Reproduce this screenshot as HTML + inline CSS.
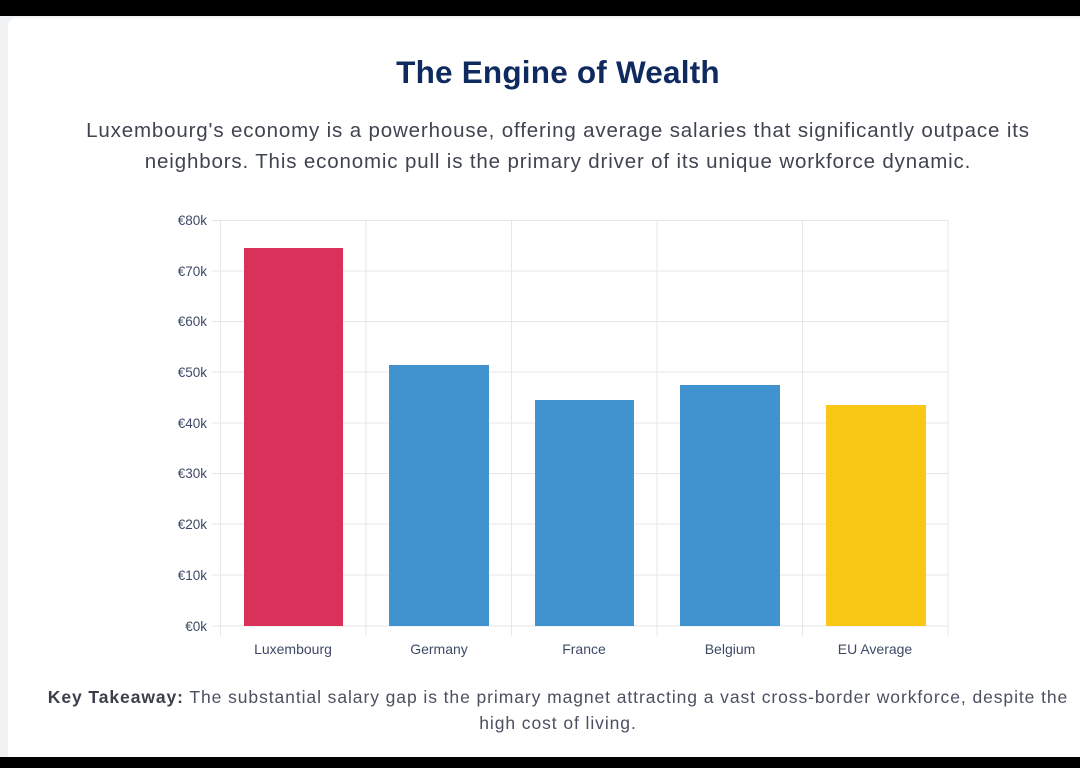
<!DOCTYPE html>
<html><head><meta charset="utf-8"><style>
body{margin:0;width:1080px;height:768px;background:#000;overflow:hidden;font-family:"Liberation Sans",sans-serif;position:relative}
.card{position:absolute;left:0;top:16px;width:1080px;height:741px;background:#f1f2f4}
.inner{position:absolute;left:8px;top:18px;width:1072px;height:739px;background:#fff;border-radius:8px 0 0 0}
h1{position:absolute;top:54px;left:0;width:1116px;text-align:center;margin:0;font-size:31.5px;color:#0f2a5e;font-weight:bold;letter-spacing:0.2px}
.sub{position:absolute;top:115px;left:0;width:1116px;text-align:center;font-size:20.5px;line-height:31px;color:#3f4450;letter-spacing:0.85px;white-space:nowrap}
.key{position:absolute;top:684px;left:0;width:1116px;text-align:center;font-size:17.5px;line-height:26px;color:#4b5060;letter-spacing:0.92px;white-space:nowrap}
.key b{color:#3a3f4a}
</style></head><body>
<div class="card"></div><div class="inner"></div>
<h1>The Engine of Wealth</h1>
<div class="sub">Luxembourg's economy is a powerhouse, offering average salaries that significantly outpace its<br>neighbors. This economic pull is the primary driver of its unique workforce dynamic.</div>
<svg width="1080" height="768" style="position:absolute;left:0;top:0" font-family="Liberation Sans, sans-serif">
<g stroke="#e5e7eb" stroke-width="1">
<line x1="212" x2="948" y1="220.5" y2="220.5"/><line x1="212" x2="948" y1="271" y2="271"/><line x1="212" x2="948" y1="321.5" y2="321.5"/><line x1="212" x2="948" y1="372" y2="372"/><line x1="212" x2="948" y1="423" y2="423"/><line x1="212" x2="948" y1="473.5" y2="473.5"/><line x1="212" x2="948" y1="524" y2="524"/><line x1="212" x2="948" y1="575" y2="575"/><line x1="212" x2="948" y1="626" y2="626"/>
<line x1="220.5" x2="220.5" y1="220" y2="636"/><line x1="366" x2="366" y1="220" y2="636"/><line x1="511.5" x2="511.5" y1="220" y2="636"/><line x1="657" x2="657" y1="220" y2="636"/><line x1="802.5" x2="802.5" y1="220" y2="636"/><line x1="948" x2="948" y1="220" y2="636"/>
</g>
<rect x="244" y="248" width="99" height="378" fill="#d9315a"/>
<rect x="389" y="365" width="100" height="261" fill="#4193cf"/>
<rect x="535" y="400" width="99" height="226" fill="#4193cf"/>
<rect x="680" y="385" width="100" height="241" fill="#4193cf"/>
<rect x="826" y="405" width="100" height="221" fill="#f8c815"/>
<g fill="#3d4a66" font-size="13.5" text-anchor="end">
<text x="207" y="225">€80k</text><text x="207" y="276">€70k</text><text x="207" y="326">€60k</text><text x="207" y="377">€50k</text><text x="207" y="428">€40k</text><text x="207" y="478">€30k</text><text x="207" y="529">€20k</text><text x="207" y="580">€10k</text><text x="207" y="631">€0k</text>
</g>
<g fill="#3d4a66" font-size="14" text-anchor="middle">
<text x="293" y="654">Luxembourg</text><text x="439" y="654">Germany</text><text x="584" y="654">France</text><text x="730" y="654">Belgium</text><text x="875" y="654">EU Average</text>
</g>
</svg>
<div class="key"><b>Key Takeaway:</b> The substantial salary gap is the primary magnet attracting a vast cross-border workforce, despite the<br>high cost of living.</div>
</body></html>
